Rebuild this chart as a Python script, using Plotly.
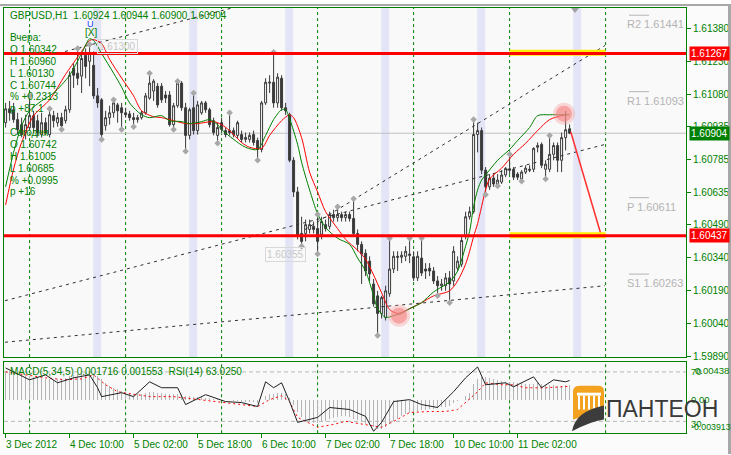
import plotly.graph_objects as go

W, H = 731, 455


def fx(px):
    return px / W


def fy(py):
    return 1 - py / H


# ---------------- data ----------------
BARS = list(range(142))
OPEN = [1.60952, 1.61015, 1.61011, 1.60966, 1.60943, 1.60907, 1.60930, 1.60984, 1.60961, 1.60898,
        1.60952, 1.60898, 1.60984, 1.60952, 1.60975, 1.60961, 1.61011, 1.61200, 1.61177, 1.61164,
        1.61258, 1.61231, 1.61213, 1.61074, 1.61056, 1.60938, 1.60975, 1.60997, 1.61033, 1.61020,
        1.60997, 1.60992, 1.60975, 1.60966, 1.60975, 1.60997, 1.61064, 1.61096, 1.61118, 1.61118,
        1.61078, 1.61078, 1.60943, 1.61029, 1.61132, 1.61020, 1.60894, 1.61020, 1.60916, 1.60997,
        1.61042, 1.61011, 1.60961, 1.60894, 1.60952, 1.60916, 1.60916, 1.60916, 1.60894, 1.60898,
        1.60876, 1.60876, 1.60898, 1.60871, 1.60830, 1.61042, 1.61132, 1.61136, 1.61042, 1.61154,
        1.61020, 1.60988, 1.60781, 1.60637, 1.60448, 1.60448, 1.60466, 1.60480, 1.60470, 1.60444,
        1.60488, 1.60480, 1.60534, 1.60520, 1.60534, 1.60520, 1.60534, 1.60516, 1.60448, 1.60398,
        1.60358, 1.60322, 1.60218, 1.60164, 1.60084, 1.60066, 1.60174, 1.60286, 1.60344, 1.60340,
        1.60344, 1.60354, 1.60342, 1.60246, 1.60336, 1.60286, 1.60290, 1.60277, 1.60232, 1.60210,
        1.60210, 1.60246, 1.60232, 1.60290, 1.60308, 1.60434, 1.60524, 1.60547, 1.60898, 1.60916,
        1.60736, 1.60660, 1.60700, 1.60668, 1.60682, 1.60714, 1.60742, 1.60740, 1.60718, 1.60696,
        1.60727, 1.60740, 1.60740, 1.60840, 1.60853, 1.60740, 1.60740, 1.60808, 1.60848, 1.60781,
        1.60884, 1.60924]
HIGH = [1.61042, 1.61051, 1.61042, 1.60997, 1.60975, 1.60988, 1.61074, 1.61006, 1.60988, 1.60997,
        1.60975, 1.61015, 1.61006, 1.60997, 1.60997, 1.61029, 1.61186, 1.61222, 1.61290, 1.61267,
        1.61290, 1.61308, 1.61276, 1.61110, 1.61064, 1.61006, 1.61029, 1.61056, 1.61042, 1.61042,
        1.61020, 1.61006, 1.60997, 1.60988, 1.61006, 1.61087, 1.61177, 1.61150, 1.61132, 1.61132,
        1.61096, 1.61096, 1.61042, 1.61141, 1.61141, 1.61042, 1.61020, 1.61087, 1.61051, 1.61051,
        1.61051, 1.61020, 1.60975, 1.60952, 1.60975, 1.60930, 1.60997, 1.60930, 1.60961, 1.60916,
        1.60907, 1.60907, 1.60916, 1.60884, 1.61051, 1.61154, 1.61168, 1.61272, 1.61177, 1.61168,
        1.61042, 1.60997, 1.60795, 1.60660, 1.60524, 1.60511, 1.60511, 1.60502, 1.60534, 1.60524,
        1.60511, 1.60547, 1.60556, 1.60570, 1.60547, 1.60547, 1.60547, 1.60606, 1.60466, 1.60412,
        1.60376, 1.60344, 1.60241, 1.60187, 1.60164, 1.60210, 1.60426, 1.60367, 1.60367, 1.60367,
        1.60390, 1.60426, 1.60367, 1.60367, 1.60426, 1.60313, 1.60313, 1.60295, 1.60254, 1.60241,
        1.60268, 1.60277, 1.60390, 1.60344, 1.60434, 1.60547, 1.60570, 1.60960, 1.60952, 1.60930,
        1.60750, 1.60718, 1.60718, 1.60718, 1.60736, 1.60750, 1.60808, 1.60750, 1.60727, 1.60736,
        1.60758, 1.60758, 1.60840, 1.60862, 1.60862, 1.60781, 1.60894, 1.60862, 1.60862, 1.60907,
        1.61005, 1.60944]
LOW = [1.60930, 1.60961, 1.60952, 1.60898, 1.60885, 1.60876, 1.60916, 1.60907, 1.60889, 1.60885,
       1.60894, 1.60885, 1.60930, 1.60934, 1.60921, 1.60948, 1.60997, 1.61110, 1.61123, 1.61087,
       1.61154, 1.61118, 1.61060, 1.61020, 1.60876, 1.60916, 1.60943, 1.60975, 1.60952, 1.60921,
       1.60975, 1.60961, 1.60934, 1.60952, 1.60966, 1.60988, 1.61056, 1.61051, 1.61020, 1.61042,
       1.61042, 1.60934, 1.60921, 1.61020, 1.61006, 1.60822, 1.60876, 1.60898, 1.60898, 1.60988,
       1.60997, 1.60930, 1.60894, 1.60858, 1.60907, 1.60885, 1.60894, 1.60885, 1.60880, 1.60862,
       1.60862, 1.60862, 1.60848, 1.60781, 1.60817, 1.61033, 1.61087, 1.61020, 1.61020, 1.61006,
       1.60988, 1.60772, 1.60614, 1.60421, 1.60390, 1.60412, 1.60448, 1.60448, 1.60354, 1.60421,
       1.60457, 1.60466, 1.60502, 1.60502, 1.60502, 1.60502, 1.60502, 1.60434, 1.60367, 1.60218,
       1.60254, 1.60232, 1.60115, 1.59984, 1.60061, 1.60052, 1.60160, 1.60268, 1.60277, 1.60313,
       1.60322, 1.60313, 1.60232, 1.60232, 1.60254, 1.60241, 1.60254, 1.60218, 1.60164, 1.60187,
       1.60187, 1.60130, 1.60210, 1.60277, 1.60295, 1.60421, 1.60511, 1.60538, 1.60817, 1.60718,
       1.60624, 1.60646, 1.60660, 1.60664, 1.60673, 1.60704, 1.60718, 1.60691, 1.60691, 1.60685,
       1.60718, 1.60727, 1.60727, 1.60817, 1.60745, 1.60696, 1.60727, 1.60781, 1.60727, 1.60727,
       1.60826, 1.60900]
CLOSE = [1.61015, 1.60997, 1.60966, 1.60921, 1.60898, 1.60943, 1.60984, 1.60930, 1.60907, 1.60952,
         1.60907, 1.60988, 1.60961, 1.60975, 1.60938, 1.61011, 1.61168, 1.61168, 1.61154, 1.61244,
         1.61208, 1.61267, 1.61074, 1.61042, 1.60898, 1.60975, 1.60997, 1.61042, 1.61006, 1.60997,
         1.60988, 1.60975, 1.60966, 1.60975, 1.60997, 1.61074, 1.61132, 1.61141, 1.61033, 1.61056,
         1.61064, 1.60943, 1.61029, 1.61132, 1.61020, 1.60894, 1.61011, 1.60916, 1.61033, 1.61042,
         1.61011, 1.60943, 1.60907, 1.60930, 1.60921, 1.60898, 1.60907, 1.60898, 1.60952, 1.60876,
         1.60885, 1.60894, 1.60862, 1.60830, 1.61042, 1.61136, 1.61136, 1.61042, 1.61159, 1.61020,
         1.61006, 1.60781, 1.60637, 1.60434, 1.60412, 1.60488, 1.60488, 1.60466, 1.60412, 1.60502,
         1.60470, 1.60534, 1.60520, 1.60534, 1.60520, 1.60534, 1.60516, 1.60448, 1.60398, 1.60354,
         1.60277, 1.60264, 1.60128, 1.60084, 1.60156, 1.60187, 1.60286, 1.60344, 1.60340, 1.60349,
         1.60367, 1.60349, 1.60246, 1.60344, 1.60268, 1.60277, 1.60277, 1.60232, 1.60210, 1.60218,
         1.60246, 1.60218, 1.60367, 1.60322, 1.60416, 1.60524, 1.60547, 1.60898, 1.60916, 1.60736,
         1.60660, 1.60700, 1.60673, 1.60691, 1.60714, 1.60744, 1.60736, 1.60704, 1.60704, 1.60727,
         1.60745, 1.60736, 1.60835, 1.60848, 1.60758, 1.60763, 1.60808, 1.60848, 1.60781, 1.60884,
         1.60920, 1.60904]

FAST_MA_BARS = [0, 2, 4, 6, 9, 12, 16, 19, 21, 22, 24, 27, 29, 31, 34, 36, 39, 41, 44, 46, 49, 51, 53, 54,
                57, 60, 63, 65, 67, 69, 70, 71, 73, 74, 76, 78, 80, 83, 86, 88, 90, 92, 93, 95, 97, 99,
                101, 104, 107, 111, 113, 115, 116, 117, 118, 119, 120, 123, 126, 128, 131, 133, 136,
                139, 141]
FAST_MA = [1.60660, 1.60817, 1.60938, 1.61006, 1.61051, 1.61087, 1.61168, 1.61267, 1.61334, 1.61326,
           1.61267, 1.61177, 1.61114, 1.61042, 1.60988, 1.60975, 1.60984, 1.60961, 1.60957, 1.60948,
           1.60957, 1.60966, 1.60943, 1.60921, 1.60876, 1.60840, 1.60830, 1.60894, 1.60966, 1.61011,
           1.61011, 1.60970, 1.60853, 1.60772, 1.60646, 1.60538, 1.60475, 1.60426, 1.60398, 1.60336,
           1.60277, 1.60164, 1.60106, 1.60066, 1.60074, 1.60084, 1.60106, 1.60133, 1.60182, 1.60228,
           1.60277, 1.60390, 1.60457, 1.60570, 1.60646, 1.60691, 1.60714, 1.60781, 1.60830, 1.60871,
           1.60930, 1.60984, 1.60988, 1.60988, 1.60988]
SLOW_MA_BARS = [0, 2, 4, 7, 11, 15, 19, 21, 22, 24, 26, 29, 32, 34, 37, 39, 42, 45, 48, 52, 54, 56, 59,
                61, 64, 66, 69, 71, 72, 74, 76, 78, 80, 83, 85, 88, 90, 92, 94, 96, 98, 100, 104, 107,
                111, 113, 115, 116, 117, 118, 120, 121, 124, 127, 130, 133, 136, 139, 140]
SLOW_MA = [1.60578, 1.60741, 1.60862, 1.60984, 1.61056, 1.61172, 1.61276, 1.61326, 1.61330, 1.61312,
           1.61240, 1.61155, 1.61074, 1.61006, 1.60979, 1.60975, 1.60961, 1.60948, 1.60948, 1.60957,
           1.60943, 1.60916, 1.60862, 1.60840, 1.60835, 1.60894, 1.60961, 1.60988, 1.60975, 1.60884,
           1.60727, 1.60637, 1.60547, 1.60470, 1.60421, 1.60372, 1.60331, 1.60259, 1.60178, 1.60102,
           1.60084, 1.60097, 1.60133, 1.60164, 1.60187, 1.60232, 1.60308, 1.60367, 1.60434, 1.60493,
           1.60646, 1.60696, 1.60745, 1.60808, 1.60858, 1.60916, 1.60966, 1.60984, 1.60988]

FRACTAL_UP_BARS = [6, 11, 18, 21, 27, 36, 43, 47, 56, 67, 78, 83, 87, 96, 101, 104, 117, 126, 136]
FRACTAL_UP = [1.61074, 1.61015, 1.61290, 1.61308, 1.61056, 1.61177, 1.61141, 1.61087, 1.60997,
              1.61272, 1.60534, 1.60570, 1.60606, 1.60426, 1.60426, 1.60426, 1.60966, 1.60808, 1.60894]
FRACTAL_DN_BARS = [14, 24, 29, 32, 42, 45, 53, 63, 74, 78, 93, 108, 111, 120, 123, 129, 135]
FRACTAL_DN = [1.60921, 1.60876, 1.60921, 1.60934, 1.60921, 1.60822, 1.60858, 1.60781, 1.60390,
              1.60354, 1.59984, 1.60164, 1.60133, 1.60624, 1.60664, 1.60686, 1.60696]

MACD_HIST = [0.0032, 0.0033, 0.0032, 0.0031, 0.0029, 0.0028, 0.0027, 0.0026, 0.0026, 0.0025,
             0.0024, 0.0024, 0.0023, 0.0024, 0.0024, 0.0025, 0.0027, 0.0029, 0.0030, 0.0031,
             0.0032, 0.0033, 0.0031, 0.0028, 0.0024, 0.0019, 0.0016, 0.0014, 0.0012, 0.0010,
             0.0008, 0.0007, 0.0006, 0.0006, 0.0007, 0.0008, 0.0009, 0.0009, 0.0008, 0.0008,
             0.0007, 0.0006, 0.0006, 0.0007, 0.0006, 0.0004, 0.0004, 0.0003, 0.0003, 0.0003,
             0.0002, 0.0002, 0.0001, 0.0001, 0.0000, -0.0001, -0.0001, -0.0002, -0.0002, -0.0003,
             -0.0003, -0.0003, -0.0003, -0.0004, 0.0000, 0.0004, 0.0006, 0.0007, 0.0008, 0.0008,
             0.0006, 0.0002, -0.0006, -0.0014, -0.0020, -0.0024, -0.0026, -0.0027, -0.0027, -0.0026,
             -0.0025, -0.0023, -0.0021, -0.0020, -0.0019, -0.0019, -0.0020, -0.0022, -0.0024, -0.0026,
             -0.0028, -0.0030, -0.0032, -0.0034, -0.0034, -0.0032, -0.0028, -0.0025, -0.0022, -0.0019,
             -0.0017, -0.0015, -0.0014, -0.0013, -0.0012, -0.0012, -0.0011, -0.0011, -0.0010, -0.0009,
             -0.0008, -0.0007, -0.0004, -0.0002, 0.0000, 0.0004, 0.0008, 0.0018, 0.0024, 0.0026,
             0.0026, 0.0025, 0.0024, 0.0023, 0.0022, 0.0021, 0.0021, 0.0020, 0.0019, 0.0019,
             0.0018, 0.0018, 0.0018, 0.0019, 0.0018, 0.0017, 0.0017, 0.0017, 0.0016, 0.0016,
             0.0017, 0.0017]
SIGNAL_BARS = [0, 6, 10, 15, 19, 22, 25, 28, 36, 42, 48, 55, 63, 66, 69, 71, 73, 78, 82, 85, 90, 94,
               98, 101, 106, 110, 113, 115, 118, 120, 124, 127, 130, 135, 141]
SIGNAL = [0.00323, 0.00277, 0.00254, 0.00231, 0.00242, 0.00288, 0.00173, 0.00092, 0.00035, 0.00035,
          0.00000, -0.00034, -0.00080, 0.00000, 0.00046, -0.00023, -0.00207, -0.00322, -0.00288,
          -0.00253, -0.00288, -0.00322, -0.00230, -0.00150, -0.00138, -0.00138, -0.00115, -0.00034,
          0.00092, 0.00196, 0.00173, 0.00173, 0.00138, 0.00138, 0.00155]
RSI_BARS = [0, 6, 10, 13, 17, 21, 23, 24, 29, 32, 36, 39, 43, 45, 50, 55, 59, 63, 65, 67, 69, 71, 73,
            78, 81, 86, 90, 92, 94, 97, 101, 104, 108, 112, 115, 118, 120, 125, 127, 132, 134, 137,
            140, 141]
RSI = [73.2, 63.6, 67.6, 61.2, 65.2, 67.6, 57.2, 50.0, 53.2, 50.0, 62.0, 57.2, 57.2, 43.6, 51.6, 46.0,
       45.2, 42.0, 62.0, 57.2, 61.2, 46.0, 29.2, 33.2, 41.2, 39.6, 34.0, 22.0, 29.2, 46.0, 47.6, 43.6,
       41.2, 54.0, 65.2, 74.0, 59.6, 61.2, 58.0, 66.0, 57.2, 63.6, 62.0, 63.025]
RSI_LEVELS = [70, 30]

RED_LEVELS = [1.61267, 1.60437]
BID = 1.60904
ZONE_BARS = [126, 150]

TL_STEEP_BARS = [74.85, 149.85]
TL_STEEP = [1.60466, 1.61303]
TL_MID_BARS = [-0.15, 149.85]
TL_MID = [1.60142, 1.60853]
TL_LOW_BARS = [-0.15, 149.85]
TL_LOW = [1.59953, 1.60210]
TL_TOP_BARS = [14.85, 60.0]
TL_TOP = [1.61276, 1.61490]

HIGHLIGHT_BARS = [98.35, 139.6]
HIGHLIGHT = [1.60074, 1.60993]
ARROW_BARS = [141.3, 148.9]
ARROW = [1.60910, 1.60440]

PIVOT_NAMES = ["R2", "R1", "P", "S1"]
PIVOT_VALUES = [1.61441, 1.61093, 1.60611, 1.60263]

PRICE_TICKS = [1.61380, 1.61230, 1.61080, 1.60935, 1.60785, 1.60635,
               1.60490, 1.60340, 1.60190, 1.60040, 1.59890]
TICK_BARS = [0, 16, 32, 48, 64, 80, 96, 112, 128]
TICK_LABELS = ["3 Dec 2012", "4 Dec 10:00", "5 Dec 02:00", "5 Dec 18:00", "6 Dec 10:00",
               "7 Dec 02:00", "7 Dec 18:00", "10 Dec 10:00", "11 Dec 02:00"]
DAY_BARS = [6, 30, 54, 78, 102, 126, 150]
SESSION_BARS = [22, 46, 70, 94, 118, 142]

TITLE = "GBPUSD,H1  1.60924 1.60944 1.60900 1.60904"
INFO_LINES = ["Вчера:", "O 1.60342", "H 1.60960", "L 1.60130", "C 1.60744", "% +0.2313", "p +87.1",
              "", "Сегодня", "O 1.60742", "H 1.61005", "L 1.60685", "% +0.0995", "p +16"]
IND_TITLE = "MACD(5,34,5) 0.001716 0.001553  RSI(14) 63.0250"
MACD_LABELS = ["0.00438", "0.00", "-0.003913"]
MACD_LABEL_VALUES = [0.00438, 0.0, -0.003913]

# ---------------- figure ----------------
GREEN = "#008000"
CANDLE = "#3a3a3a"
FONT = "Liberation Sans, Arial, sans-serif"
XR = [-0.4, 170.1]

fig = go.Figure()

fig.add_trace(go.Candlestick(
    x=BARS, open=OPEN, high=HIGH, low=LOW, close=CLOSE,
    increasing=dict(line=dict(color=CANDLE, width=1), fillcolor="#ffffff"),
    decreasing=dict(line=dict(color=CANDLE, width=1), fillcolor=CANDLE),
    whiskerwidth=0, xaxis="x", yaxis="y", showlegend=False, hoverinfo="skip"))

# trend lines
for bx, by in [(TL_STEEP_BARS, TL_STEEP), (TL_MID_BARS, TL_MID), (TL_LOW_BARS, TL_LOW),
               (TL_TOP_BARS, TL_TOP)]:
    fig.add_trace(go.Scatter(x=bx, y=by, mode="lines", xaxis="x", yaxis="y",
                             line=dict(color="#303030", width=1, dash="3px,4px"),
                             showlegend=False, hoverinfo="skip"))

fig.add_trace(go.Scatter(x=SLOW_MA_BARS, y=SLOW_MA, mode="lines", xaxis="x", yaxis="y",
                         line=dict(color="#ff0000", width=1, shape="spline", smoothing=0.8),
                         showlegend=False, hoverinfo="skip"))
fig.add_trace(go.Scatter(x=FAST_MA_BARS, y=FAST_MA, mode="lines", xaxis="x", yaxis="y",
                         line=dict(color=GREEN, width=1, shape="spline", smoothing=0.8),
                         showlegend=False, hoverinfo="skip"))

fig.add_trace(go.Scatter(x=FRACTAL_UP_BARS + FRACTAL_DN_BARS, y=FRACTAL_UP + FRACTAL_DN,
                         mode="markers", xaxis="x", yaxis="y",
                         marker=dict(symbol="diamond", size=5, color="#a8a8a8"),
                         showlegend=False, hoverinfo="skip"))

fig.add_trace(go.Scatter(x=HIGHLIGHT_BARS, y=HIGHLIGHT, mode="markers", xaxis="x", yaxis="y",
                         marker=dict(size=22, color="rgba(245,150,150,0.35)"),
                         showlegend=False, hoverinfo="skip"))
fig.add_trace(go.Scatter(x=HIGHLIGHT_BARS, y=HIGHLIGHT, mode="markers", xaxis="x", yaxis="y",
                         marker=dict(size=16, color="rgba(245,130,130,0.6)"),
                         showlegend=False, hoverinfo="skip"))
fig.add_trace(go.Scatter(x=ARROW_BARS, y=ARROW, mode="lines", xaxis="x", yaxis="y",
                         line=dict(color="#ff3030", width=1.5),
                         showlegend=False, hoverinfo="skip"))

# lower panel
fig.add_trace(go.Bar(x=BARS, y=MACD_HIST, xaxis="x2", yaxis="y2", width=0.3,
                     marker=dict(color="#b4b4b4", line=dict(width=0)),
                     showlegend=False, hoverinfo="skip"))
fig.add_trace(go.Scatter(x=SIGNAL_BARS, y=SIGNAL, mode="lines", xaxis="x2", yaxis="y2",
                         line=dict(color="#ff0000", width=1, dash="2px,3px"),
                         showlegend=False, hoverinfo="skip"))
fig.add_trace(go.Scatter(x=RSI_BARS, y=RSI, mode="lines", xaxis="x2", yaxis="y3",
                         line=dict(color="#202020", width=1),
                         showlegend=False, hoverinfo="skip"))

shapes = []
# session bands
for b in SESSION_BARS:
    shapes.append(dict(type="rect", xref="x", yref="y domain", x0=b - 0.1, x1=b + 1.9, y0=0, y1=1,
                       fillcolor="#e3e5f7", line=dict(width=0), layer="below"))
# day grid
for b in DAY_BARS:
    for yr in ["y domain", "y2 domain"]:
        shapes.append(dict(type="line", xref="x" if yr == "y domain" else "x2", yref=yr,
                           x0=b, x1=b, y0=0, y1=1, layer="below",
                           line=dict(color=GREEN, width=1, dash="3px,3px")))
# bid line
shapes.append(dict(type="line", xref="x domain", yref="y", x0=0, x1=1, y0=BID, y1=BID,
                   line=dict(color="#c0c0c0", width=1), layer="below"))
# RSI levels
for lv in RSI_LEVELS:
    shapes.append(dict(type="line", xref="x2 domain", yref="y3", x0=0, x1=1, y0=lv, y1=lv,
                       line=dict(color="#b8b8b8", width=1, dash="4px,3px"), layer="below"))
# target zones and red levels
for lv in RED_LEVELS:
    shapes.append(dict(type="line", xref="x", yref="y", x0=ZONE_BARS[0], x1=ZONE_BARS[1],
                       y0=lv + 0.00003, y1=lv + 0.00003, line=dict(color="#ffee00", width=6)))
for lv in RED_LEVELS:
    shapes.append(dict(type="line", xref="x domain", yref="y", x0=0, x1=1, y0=lv, y1=lv,
                       line=dict(color="#ff0000", width=3)))
# pivot overlines
for v in PIVOT_VALUES:
    shapes.append(dict(type="line", xref="paper", yref="y", x0=fx(629), x1=fx(649), y0=v, y1=v,
                       line=dict(color="#b4b4b4", width=1)))
# window edges
shapes.append(dict(type="rect", xref="paper", yref="paper", x0=0, x1=1, y0=fy(2), y1=1,
                   fillcolor="#a8a8a8", line=dict(width=0)))
shapes.append(dict(type="rect", xref="paper", yref="paper", x0=fx(728), x1=1, y0=0, y1=1,
                   fillcolor="#a8a8a8", line=dict(width=0)))
# shift marker
shapes.append(dict(type="path", xref="paper", yref="paper",
                   path=f"M {fx(571)} {fy(4)} L {fx(579)} {fy(4)} L {fx(575)} {fy(9)} Z",
                   fillcolor="#a0a0a0", line=dict(width=0)))
# logo icon
shapes.append(dict(type="path", xref="paper", yref="paper",
                   path=(f"M {fx(573)} {fy(392)} Q {fx(573)} {fy(386)} {fx(580)} {fy(386)} "
                         f"L {fx(598)} {fy(386)} Q {fx(604)} {fy(386)} {fx(604)} {fy(392)} "
                         f"L {fx(604)} {fy(412)} L {fx(573)} {fy(420)} Z"),
                   fillcolor="#f3a21f", line=dict(width=0)))
for cx in [579, 584, 589, 594, 599]:
    shapes.append(dict(type="rect", xref="paper", yref="paper", x0=fx(cx - 1), x1=fx(cx + 1),
                       y0=fy(410), y1=fy(396), fillcolor="#ffffff", line=dict(width=0)))
shapes.append(dict(type="rect", xref="paper", yref="paper", x0=fx(577), x1=fx(601),
                   y0=fy(396), y1=fy(393), fillcolor="#ffffff", line=dict(width=0)))
shapes.append(dict(type="path", xref="paper", yref="paper",
                   path=(f"M {fx(572)} {fy(432)} Q {fx(575)} {fy(412)} {fx(604)} {fy(406)} "
                         f"L {fx(604)} {fy(420)} Q {fx(590)} {fy(422)} {fx(572)} {fy(432)} Z"),
                   fillcolor="#3c3c3c", line=dict(width=0)))

ann = []


def txt(text, x, y, color=GREEN, size=10, xanchor="left", yanchor="middle", **kw):
    d = dict(text=text, x=x, y=y, xref=kw.pop("xref", "paper"), yref=kw.pop("yref", "paper"),
             xanchor=xanchor, yanchor=yanchor, showarrow=False,
             font=dict(family=kw.pop("family", FONT), size=size, color=color))
    d.update(kw)
    ann.append(d)


txt(TITLE, fx(8), fy(12))
for k, line in enumerate(INFO_LINES):
    if line:
        txt(line, fx(8), fy(34 + 12 * k))
txt("[X]", fx(83), fy(29), size=10)
txt("Ü", fx(85), fy(20), color="#2040ff", size=9)
txt("1.61300", x=22.85, y=1.61300, xref="x", yref="y", color="#c8c8c8", size=10,
    bordercolor="#d8d8d8", borderwidth=1, borderpad=1)
txt("1.60355", x=64.85, y=1.60350, xref="x", yref="y", color="#c8c8c8", size=10,
    bordercolor="#d8d8d8", borderwidth=1, borderpad=1)
for name, v in zip(PIVOT_NAMES, PIVOT_VALUES):
    txt(f"{name} {v:.5f}", fx(625), v, yref="y", color="#b4b4b4", size=11, yanchor="top",
        yshift=-1)
for lv in RED_LEVELS:
    txt(f"{lv:.5f}", fx(689), lv, yref="y", color="#ffffff", size=10, bgcolor="#ff0000",
        borderpad=1)
txt(f"{BID:.5f}", fx(689), BID, yref="y", color="#ffffff", size=10, bgcolor=GREEN, borderpad=1)
txt(IND_TITLE, fx(8), fy(372))
txt("70", fx(689), fy(372), size=9.5)
txt("30", fx(689), fy(424), size=9.5)
for lab, v in zip(MACD_LABELS, MACD_LABEL_VALUES):
    yy = {0.00438: fy(371), 0.0: fy(400), -0.003913: fy(428)}[v]
    txt(lab, fx(693 if v > 0 else 689), yy, size=9.5 if v >= 0 else 8.8)
for b, lab in zip(TICK_BARS, TICK_LABELS):
    txt(lab, b, fy(445), xref="x2", xshift=-2)
txt("ПАНТЕОН", fx(604), fy(409), color="#3a3a3a", size=23,
    family="Liberation Sans Narrow, Arial Narrow, Liberation Sans, sans-serif")

axis_common = dict(showgrid=False, zeroline=False, showline=True, mirror=True,
                   linecolor=GREEN, linewidth=1)

fig.update_layout(
    width=W, height=H, autosize=False,
    margin=dict(l=0, r=0, t=0, b=0),
    paper_bgcolor="#fbfbfb", plot_bgcolor="#f9f9f9",
    showlegend=False, bargap=0,
    xaxis=dict(domain=[fx(4), fx(686)], range=XR, anchor="y", showticklabels=False,
               ticks="", rangeslider=dict(visible=False), **axis_common),
    yaxis=dict(domain=[fy(357), fy(4)], range=[1.598855, 1.61474], anchor="x", side="right",
               tickvals=PRICE_TICKS, tickformat=".5f", ticks="outside", ticklen=4,
               tickcolor=GREEN, tickfont=dict(family=FONT, size=10, color=GREEN), **axis_common),
    xaxis2=dict(domain=[fx(4), fx(686)], range=XR, anchor="y2", tickvals=TICK_BARS,
                ticks="outside", ticklen=4, tickcolor=GREEN, showticklabels=False, **axis_common),
    yaxis2=dict(domain=[fy(434), fy(362)], range=[-0.003913, 0.00438], anchor="x2",
                side="right", showticklabels=False, ticks="", **axis_common),
    yaxis3=dict(range=[20.4, 78], overlaying="y2", anchor="x2", visible=False),
    shapes=shapes, annotations=ann,
)

fig.write_html("out.html",
               config={"displayModeBar": False, "staticPlot": True},
               post_script="document.body.style.margin='4px 0px 0px 0px';"
                           "document.body.style.overflow='hidden';"
                           "document.documentElement.style.overflow='hidden';")
